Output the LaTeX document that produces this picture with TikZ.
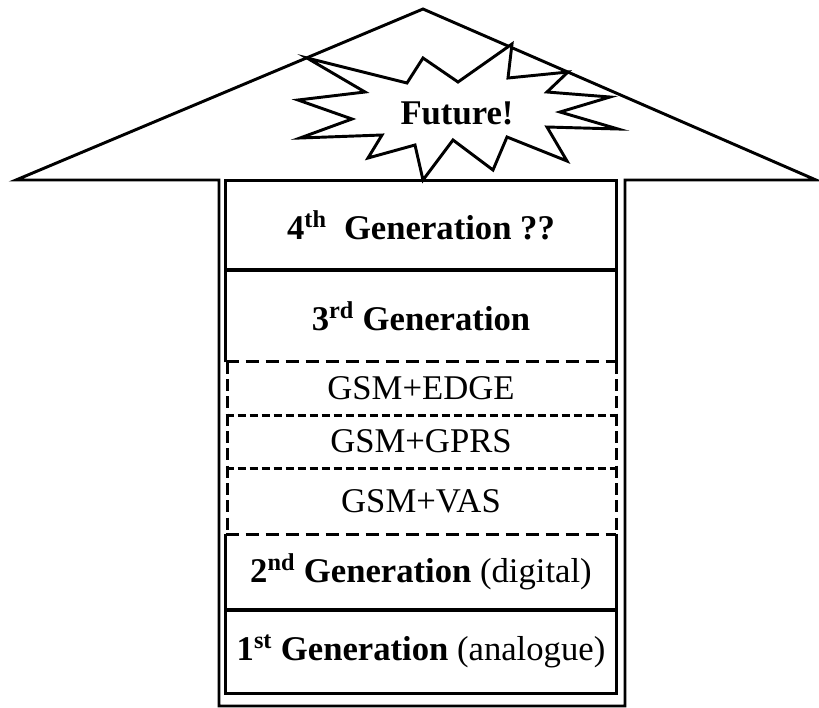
\documentclass[tikz,border=0pt]{standalone}
\usepackage{fontspec}
\setmainfont{Liberation Serif}
\begin{document}
\begin{tikzpicture}[x=0.75pt,y=-0.75pt,
  outline/.style={line width=2.2pt, line join=miter},
  boxline/.style={line width=2.6pt},
  bigdash/.style={line width=2.6pt, dash pattern=on 9.75pt off 5.25pt},
  smalldash/.style={line width=2.2pt, dash pattern=on 6pt off 3pt},
  sidedash/.style={line width=2.2pt, dash pattern=on 9pt off 4pt},
  row/.style={minimum width=292.5pt, inner sep=0pt, font=\fontsize{26}{30}\selectfont},
  ]
\useasboundingbox (0,0) rectangle (819,708);
% arrow outline
\coordinate (apex) at (423,9);
\coordinate (lc) at (16,180);
\coordinate (rc) at (816,180);
\coordinate (sl) at (219,180);
\coordinate (sr) at (625,180);
\coordinate (bl) at (219,706);
\coordinate (br) at (625,706);
\draw[outline] (lc) -- (apex) -- (rc) -- (sr) -- (br) -- (bl) -- (sl) -- cycle;
% star
\draw[outline, fill=white] (307,58) -- (407,83) -- (423,58) -- (458,82) -- (512,44) -- (508,78)
  -- (568,72) -- (547,92) -- (610,97) -- (560,112) -- (618,129) -- (547,127) -- (567,161)
  -- (507,137) -- (493,170) -- (453,140) -- (423,180) -- (415,145) -- (368,158) -- (382,135)
  -- (300,138) -- (352,119) -- (298,100) -- (365,92) -- cycle;
\node[font=\fontsize{26}{30}\selectfont\bfseries] (future) at (457,113) {Future!};
% rows
\node[row, minimum height=66.75pt] (g4) at (421,225.5) {\bfseries 4\textsuperscript{th}\ \ Generation ??};
\node[row, minimum height=69pt] (g3) at (421,316) {\bfseries 3\textsuperscript{rd} Generation};
\node[row, minimum height=39.75pt] (edge) at (421,388.5) {GSM+EDGE};
\node[row, minimum height=39.75pt] (gprs) at (421,441.5) {GSM+GPRS};
\node[row, minimum height=49.5pt] (vas) at (421,501) {GSM+VAS};
\node[row, minimum height=57pt] (g2) at (421,572) {\textbf{2\textsuperscript{nd} Generation} (digital)};
\node[row, minimum height=62.25pt] (g1) at (421,651.5) {\textbf{1\textsuperscript{st} Generation} (analogue)};
% borders
\draw[boxline] (g4.north west) rectangle (g4.south east);
\draw[boxline] (g3.south west) -- (g3.north west) -- (g3.north east) -- (g3.south east);
\draw[bigdash] (edge.north west) -- (edge.north east);
\draw[smalldash] (edge.south west) -- (edge.south east);
\draw[smalldash] (gprs.south west) -- (gprs.south east);
\draw[bigdash] (vas.south west) -- (vas.south east);
\draw[sidedash] ([xshift=1.5pt]edge.north west) -- ([xshift=1.5pt]vas.south west);
\draw[sidedash] (edge.north east) -- (vas.south east);
\draw[boxline] (g2.north west) -- (g2.south west) -- (g2.south east) -- (g2.north east);
\draw[boxline] (g1.north west) rectangle (g1.south east);
\end{tikzpicture}
\end{document}
